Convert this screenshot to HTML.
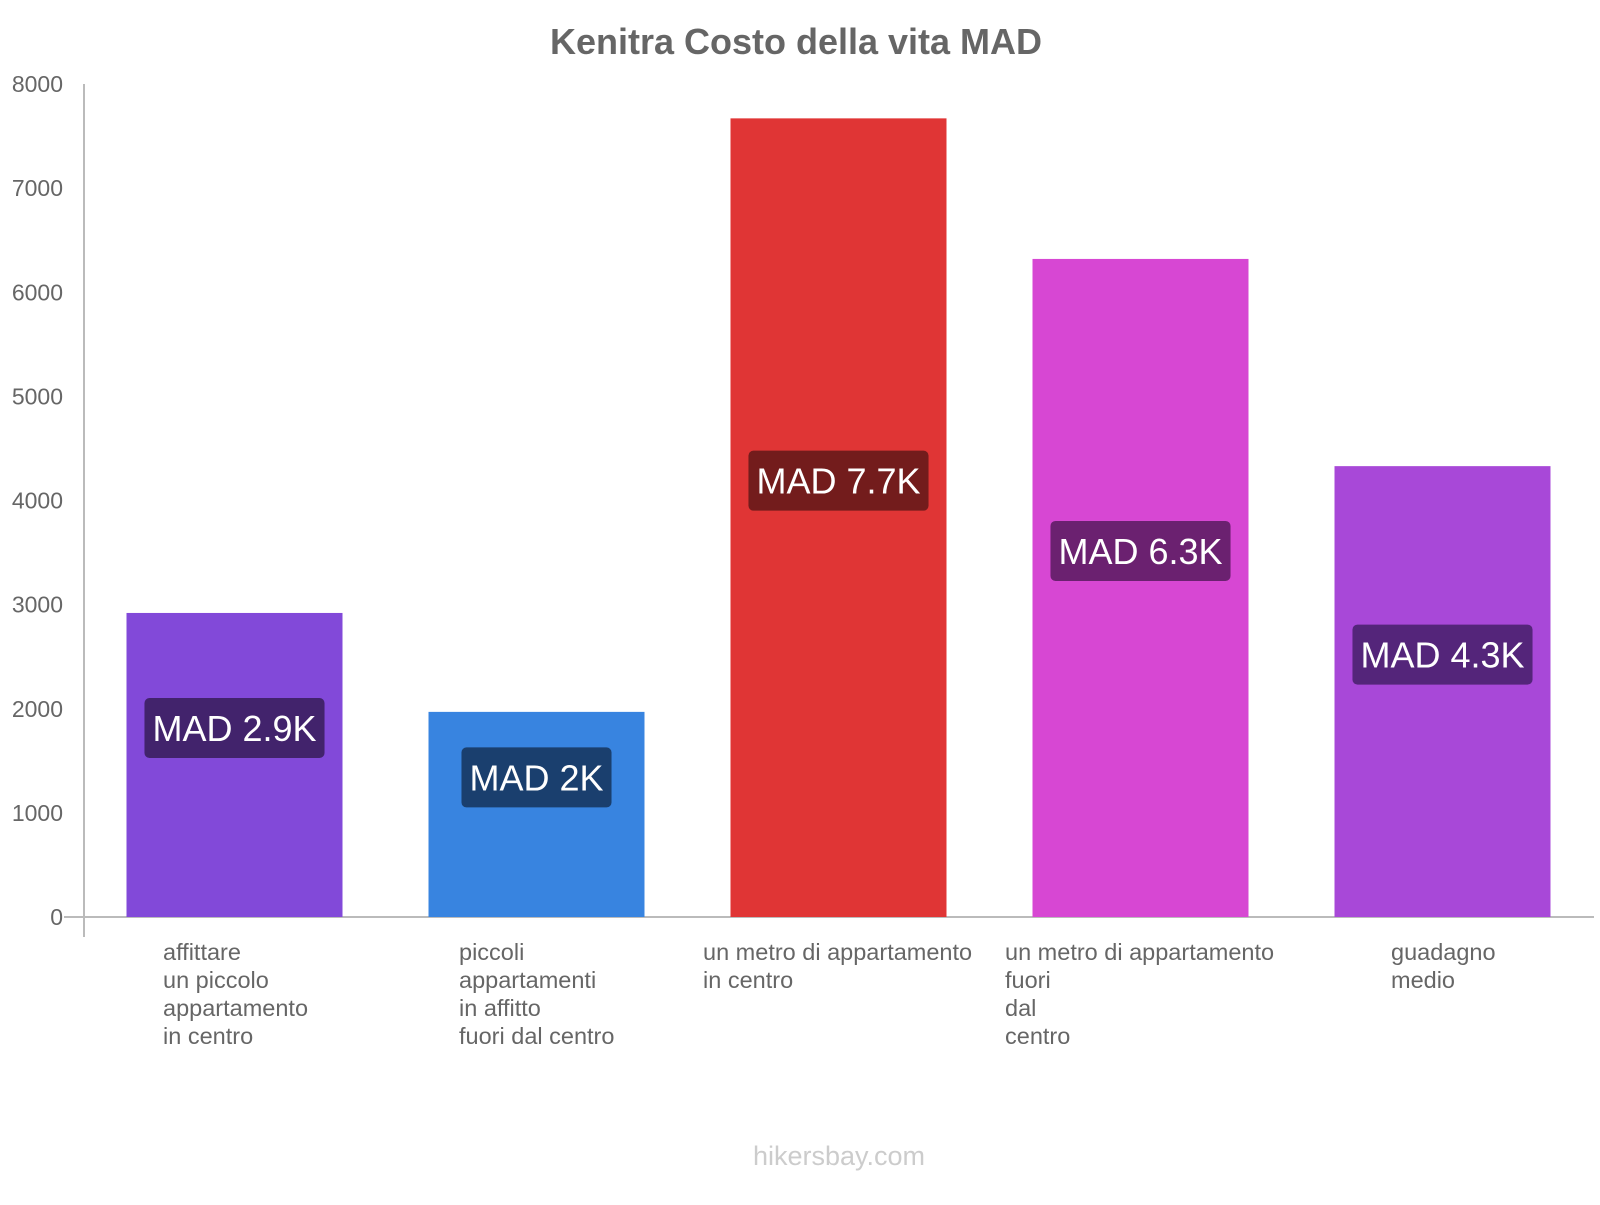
<!DOCTYPE html>
<html><head><meta charset="utf-8"><style>
body{margin:0;background:#fff;width:1600px;height:1200px;overflow:hidden;font-family:"Liberation Sans",sans-serif}
</style></head><body>
<svg id="chart" width="1600" height="1200" xmlns="http://www.w3.org/2000/svg">
<text x="796" y="54" text-anchor="middle" font-size="36" font-weight="bold" fill="#666" font-family="Liberation Sans, sans-serif">Kenitra Costo della vita MAD</text>
<g id="yaxis"></g>
<g id="bars"></g>
<g id="xlabels"></g>
<text x="839" y="1165" text-anchor="middle" font-size="27" fill="#ccc" font-family="Liberation Sans, sans-serif">hikersbay.com</text>
</svg>
<script>
const categories=[["affittare","un piccolo","appartamento","in centro"],["piccoli","appartamenti","in affitto","fuori dal centro"],["un metro di appartamento","in centro"],["un metro di appartamento","fuori","dal","centro"],["guadagno","medio"]];
const values=[2920,1970,7670,6320,4330];
const valueLabels=["MAD 2.9K","MAD 2K","MAD 7.7K","MAD 6.3K","MAD 4.3K"];
const yTicks=[0,1000,2000,3000,4000,5000,6000,7000,8000];
const barColors=["#8249d9","#3884e0","#e03535","#d747d3","#a848d8"];
const boxColors=["#42236c","#1a3f6e","#731c1c","#6b2170","#54257a"];
const labelX=[163,459,703,1005,1391];
const NS="http://www.w3.org/2000/svg";
const y0=917,pxPer=(917-84)/8000;
const yS=v=>y0-v*pxPer;
const xS=i=>126.5+i*302;
const bw=216;
function mk(t,a,p){const e=document.createElementNS(NS,t);for(const k in a)e.setAttribute(k,a[k]);p.appendChild(e);return e;}
const ya=document.getElementById('yaxis');
let l=mk('line',{x1:84,y1:84,x2:84,y2:937,stroke:'#bbb','stroke-width':2},ya);


l=mk('line',{x1:64,y1:y0,x2:1594,y2:y0,stroke:'#bbb','stroke-width':2},ya);


yTicks.forEach(v=>{const t=mk('text',{x:63,y:yS(v)+8,'text-anchor':'end','font-size':23,fill:'#666'},ya);t.textContent=v;

});
const bg=document.getElementById('bars');
values.forEach((v,i)=>{
const r=mk('rect',{x:xS(i),y:yS(v),width:bw,height:y0-yS(v),fill:barColors[i]},bg);


const cy=(yS(v)+y0)/2-37,cx=xS(i)+bw/2;
const b=mk('rect',{x:cx-80,y:cy-30,width:160,height:60,rx:5,fill:boxColors[i]},bg);


const t=mk('text',{x:cx,y:cy+13,'text-anchor':'middle','font-size':36,fill:'#fff'},bg);t.textContent=valueLabels[i];


let tw=valueLabels[i].length*19;
try{tw=t.getComputedTextLength();}catch(e){}
const w=tw+16;
b.setAttribute('x',cx-w/2);
b.setAttribute('width',w);
});
const xg=document.getElementById('xlabels');
categories.forEach((lines,i)=>{lines.forEach((s,j)=>{const t=mk('text',{x:labelX[i],y:960+j*28,'font-size':23.5,fill:'#666'},xg);t.textContent=s;

});});
</script>
</body></html>
